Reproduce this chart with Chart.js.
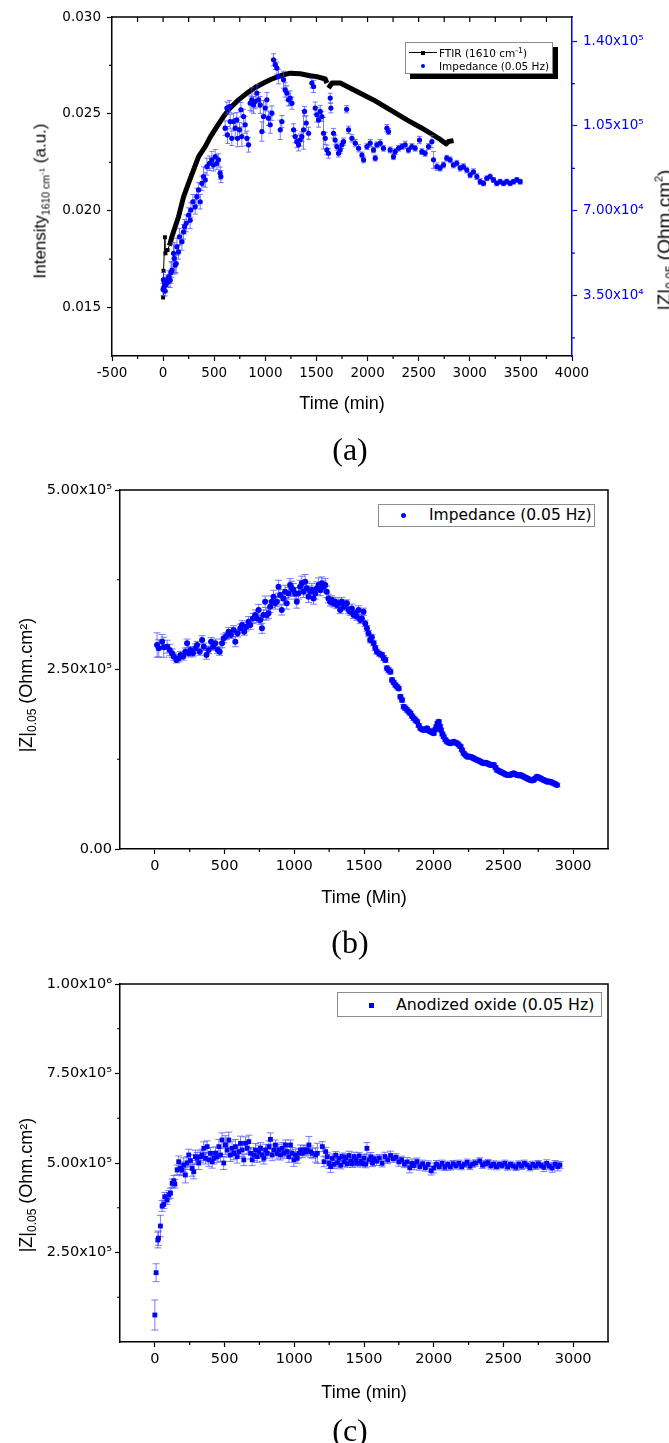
<!DOCTYPE html>
<html><head><meta charset="utf-8">
<script src="https://cdn.jsdelivr.net/npm/chart.js@4.4.1/dist/chart.umd.min.js"></script>
<style>
html,body{margin:0;padding:0;background:#fff;}
body{width:669px;height:1443px;position:relative;overflow:hidden;font-family:"Liberation Sans",Arial,sans-serif;color:#000;}
canvas{position:absolute;left:0;}
.t{position:absolute;white-space:nowrap;transform:translate(-50%,-50%);line-height:1;}
.r{transform:translate(-50%,-50%) rotate(-90deg);}
.cap{font-family:"Liberation Serif",serif;font-size:32px;}
.sb{position:relative;top:0.35em;}
.sp{position:relative;top:-0.55em;font-size:0.75em;}
.sp2{position:relative;top:-0.75em;}
.leg{position:absolute;background:#fff;border:1px solid #8c8c8c;box-sizing:border-box;}
.lt{position:absolute;white-space:nowrap;transform:translateY(-50%);line-height:1;font-family:"DejaVu Sans",sans-serif;}
.mk{position:absolute;}
</style></head>
<body>
<canvas id="ca" width="669" height="420" style="top:0px;width:669px;height:420px"></canvas>
<canvas id="cb" width="669" height="440" style="top:470px;width:669px;height:440px"></canvas>
<canvas id="cc" width="669" height="440" style="top:960px;width:669px;height:440px"></canvas>

<!-- panel (a) texts -->
<div class="t r" style="left:40px;top:201px;font-size:17px">Intensity<span class="sb" style="font-size:10.5px">1610 cm<span class="sp">-1</span></span> (a.u.)</div>
<div class="t r" style="left:664px;top:240px;font-size:19px">|Z|<span class="sb" style="font-size:12px">0.05</span> (Ohm.cm<span class="sp2" style="font-size:11px">2</span>)</div>
<div class="t" style="left:342px;top:403px;font-size:18px">Time (min)</div>
<div class="t cap" style="left:350px;top:449px">(a)</div>
<div class="leg" style="left:405px;top:42px;width:148px;height:32px;box-shadow:5px 5px 0 #000;"></div>
<div class="mk" style="left:409px;top:52px;width:28px;height:1px;background:#000"></div>
<div class="mk" style="left:421px;top:50.5px;width:4px;height:4px;background:#000"></div>
<div class="lt" style="left:439px;top:53px;font-size:10.5px">FTIR (1610 cm<span class="sp">-1</span>)</div>
<div class="mk" style="left:421px;top:64px;width:4px;height:4px;border-radius:50%;background:#0000ff"></div>
<div class="lt" style="left:439px;top:66px;font-size:10.5px">Impedance (0.05 Hz)</div>

<!-- panel (b) texts -->
<div class="t r" style="left:26px;top:685px;font-size:18px">|Z|<span class="sb" style="font-size:12px">0.05</span> (Ohm.cm²)</div>
<div class="t" style="left:364px;top:897px;font-size:18px">Time (Min)</div>
<div class="t cap" style="left:350px;top:942px">(b)</div>
<div class="leg" style="left:378px;top:504px;width:217px;height:23px;"></div>
<div class="mk" style="left:400.5px;top:513px;width:5px;height:5px;border-radius:50%;background:#0000ff"></div>
<div class="lt" style="left:429px;top:516px;font-size:15.5px">Impedance (0.05 Hz)</div>

<!-- panel (c) texts -->
<div class="t r" style="left:26px;top:1185px;font-size:18px">|Z|<span class="sb" style="font-size:12px">0.05</span> (Ohm.cm²)</div>
<div class="t" style="left:364px;top:1392px;font-size:18px">Time (min)</div>
<div class="t cap" style="left:350px;top:1430px">(c)</div>
<div class="leg" style="left:337px;top:992px;width:265px;height:25px;"></div>
<div class="mk" style="left:368.5px;top:1003px;width:5px;height:5px;background:#0000ff"></div>
<div class="lt" style="left:396px;top:1005px;font-size:15.8px">Anodized oxide (0.05 Hz)</div>

<script>
// ---------------- DATA ----------------
// Panel (a): FTIR intensity at 1610 cm-1 (left axis)
const ftirT = [0,4,18,23,43,60,69,86,118,151,200,249,298,347,412,461,526,591,656,738,820,901,982,1048,1113,1178,1243,1341,1439,1521,1586,1602,1610,1618,1651,1700,1733,1896,2058,2222,2385,2515,2613,2694,2770,2792,2841];
const ftirV = [0.01552,0.0169,0.01863,0.0178,0.01797,0.0182,0.01832,0.01866,0.01917,0.01969,0.02072,0.02142,0.02211,0.02279,0.02331,0.0238,0.02434,0.02486,0.0253,0.02572,0.02607,0.02636,0.02659,0.02676,0.0269,0.02702,0.0271,0.02707,0.02697,0.0269,0.0268,0.02659,null,0.02633,0.02659,0.02659,0.02659,0.02615,0.02572,0.02521,0.02469,0.02431,0.0240,0.02374,0.02345,0.02357,0.02362];

// Panel (a): impedance |Z| at 0.05 Hz (right axis)
const impAT = [0,3,8,14,20,28,36,45,55,69,
78,86,102,108,118,128,135,151,160,184,
200,210,226,249,265,272,291,314,330,347,
363,379,395,412,428,454,477,493,510,526,
542,558,565,607,624,630,650,656,672,689,
705,721,728,748,761,770,787,803,820,836,
852,868,885,901,917,934,950,966,982,999,
1015,1031,1048,1064,1080,1097,1113,1129,1146,1162,
1178,1194,1211,1227,1243,1260,1276,1292,1309,1325,
1341,1357,1374,1384,1400,1423,1455,1472,1488,1504,
1521,1537,1553,1569,1586,1602,1618,1635,1641,1667,
1683,1700,1716,1732,1749,1765,1795,1814,1847,1880,
1912,1945,1961,1994,2026,2058,2075,2091,2124,2156,
2189,2205,2221,2254,2270,2303,2335,2368,2400,2433,
2466,2508,2531,2563,2596,2629,2645,2678,2710,2743,
2775,2808,2840,2873,2906,2938,2971,3004,3036,3069,
3102,3134,3167,3199,3232,3264,3297,3330,3362,3395,
3427,3460,3493];
const impAV = [37500,41500,38500,40000,36800,39500,41000,40500,42700,41300,
44500,45500,52400,50300,47500,48200,55100,53000,59200,57200,
61300,63400,64800,68200,66100,70300,73700,71600,75800,78600,
73700,81300,84100,82700,88200,89600,91000,88900,92300,89600,
91000,85500,84100,104100,112400,101300,113000,106800,99900,106800,
104100,107500,99900,103400,111700,100600,108900,105500,99900,97200,
114400,115800,113700,115100,118600,115800,113700,102700,108900,112400,
115800,108200,105500,110300,132300,130300,128900,125400,103400,106800,
124100,119900,118600,115800,116500,114400,103400,100600,98500,97200,
99200,100600,103400,111000,106200,102000,122700,121300,112400,109600,
107500,111000,108900,102000,99900,95100,93700,116500,112400,102000,
99200,96500,93700,95100,97200,98500,111900,103400,99900,97900,
95800,93000,91000,96500,97900,95100,91700,97200,97900,95800,
104100,102700,95100,92300,94400,95800,96500,97200,95100,96500,
95800,99200,94400,93700,96500,98500,91000,88200,87600,88900,
91700,91000,88900,89600,87600,88200,86800,84800,86100,84100,
82000,81300,83400,84100,82700,81300,82000,81300,82000,81300,
82000,82700,82000];
const impAErr = [2500,3000,2000,2500,2000,3000,2500,2000,2500,3000,
4500,3000,3500,6500,3000,4000,3500,3000,3500,3500,
3000,3000,3500,3000,3500,3000,3000,3000,3500,3000,
3000,3000,4000,3000,3500,3000,3500,2500,3000,2500,
2500,2500,2500,3000,2500,3500,2500,3000,3000,3500,
4000,3000,3500,3000,3000,4000,3000,3500,3000,3000,
3000,5000,3500,3000,3500,3000,3500,4000,6500,3000,
3000,3000,3500,3000,2500,2000,2500,3000,4000,2500,
3500,3000,3000,2500,3000,2500,2500,2500,2500,2500,
2500,2000,8000,2000,3000,2500,2000,2500,2500,3000,
3000,2500,2000,6500,2500,2000,2000,2000,2000,2000,
2000,1500,1500,1500,1500,1500,1500,1500,1500,1500,
1500,1200,1200,1200,1500,1200,1200,1200,1500,1200,
1500,1200,1200,1200,1200,1200,1200,1500,1200,1200,
1200,1500,1200,1200,1200,2500,3500,1500,1200,1200,
1200,1200,1200,1200,1200,1200,1200,1200,1200,1200,
1200,1000,1000,1000,1000,1000,1000,1000,1000,1000,
1000,1000,1000];

// Panel (b): impedance |Z| at 0.05 Hz
const impBT = [16,28,52,64,88,107,124,136,155,172,
184,203,219,231,243,255,274,291,303,322,
339,351,370,386,403,418,434,451,465,482,
494,513,529,546,565,577,593,613,625,641,
656,672,684,703,720,732,744,756,768,779,
791,803,815,827,839,851,863,875,887,898,
910,922,934,946,958,970,982,994,1006,1018,
1030,1042,1054,1066,1078,1090,1102,1114,1126,1138,
1150,1162,1174,1186,1198,1210,1222,1233,1245,1257,
1269,1281,1293,1305,1317,1329,1341,1353,1365,1377,
1389,1401,1413,1425,1437,1449,1461,1473,1485,1497,
1509,1521,1532,1544,1556,1569,1581,1593,1610,1629,
1641,1653,1665,1677,1689,1701,1713,1725,1737,1749,
1761,1773,1785,1797,1809,1821,1833,1845,1857,1869,
1881,1893,1905,1917,1928,1940,1952,1964,1976,1988,
2000,2010,2019,2028,2036,2044,2052,2062,2072,2084,
2096,2108,2120,2132,2144,2156,2168,2180,2192,2203,
2215,2227,2240,2252,2263,2275,2287,2299,2311,2323,
2335,2347,2359,2371,2383,2395,2407,2419,2431,2443,
2454,2466,2478,2490,2502,2514,2526,2538,2550,2562,
2574,2586,2598,2610,2622,2634,2645,2657,2669,2681,
2693,2705,2717,2729,2741,2753,2765,2777,2789,2801,
2813,2825,2836,2848,2860,2872,2884];
const impBV = [284100,279500,288700,281000,281800,277100,272600,268000,263200,265500,
270200,268000,274800,286400,272600,277100,272600,279500,284100,274800,
291100,281800,270200,277100,288700,281800,286400,277100,274800,286400,
293400,296500,302700,298100,305000,288700,300400,307300,311900,302700,
309600,316600,311900,321200,325900,321200,332800,318900,307300,325900,
344400,325900,328200,337500,344400,351400,342100,344400,365300,353700,
332800,349000,358300,342100,356000,367600,363000,360700,356000,344400,
356000,365300,370000,358300,372300,363000,351400,358300,360700,349000,
356000,363000,367600,360700,370000,365300,367600,358300,349000,344400,
346700,342100,344400,339800,342100,332800,344400,337500,339800,342100,
332800,330500,335100,325900,328200,323500,332800,318900,321200,330500,
314200,307300,300400,291100,295000,286500,280000,274800,272000,270200,
266000,263200,251700,249000,246900,235400,232000,228400,226000,223700,
212100,207400,198200,196000,193500,191000,188900,185000,182000,179500,
177400,172000,168100,166500,165800,166500,168100,165000,163500,162500,
161100,166000,170400,175000,177400,171000,165800,160000,156500,152000,
149400,148000,147300,148500,149400,148000,147300,145000,142600,138000,
133300,131000,128600,129000,128600,127500,126300,125000,124000,123000,
121700,120500,119300,120000,119300,118000,117000,117500,117000,113500,
110000,109000,107700,106500,105400,104000,103100,103500,103100,104500,
105400,104000,103100,102500,103100,102000,100700,99500,98400,97000,
96100,95500,96100,98500,100700,99500,98400,97000,96100,95000,
93800,94000,93800,92500,91500,90500,89100];
const impBErr = [17000,12000,10000,14000,9000,8000,6000,5000,4000,5000,
5000,5000,5000,6000,5000,5000,5000,6000,5000,5000,
6000,5000,6000,5000,6000,5000,6000,5000,5000,6000,
6000,5000,6000,5000,6000,7000,5000,6000,6000,5000,
6000,7000,6000,7000,7000,6000,8000,6000,7000,7000,
8000,7000,7000,8000,8000,9000,8000,7000,9000,8000,
7000,8000,9000,8000,8000,9000,10000,9000,8000,9000,
8000,9000,10000,8000,10000,9000,8000,8000,9000,8000,
8000,9000,10000,8000,9000,8000,9000,8000,6000,6000,
6000,5000,6000,5000,6000,5000,6000,5000,6000,5000,
5000,5000,6000,5000,5000,5000,6000,5000,5000,5000,
4500,4000,4000,4000,4000,3500,3500,3500,3500,3500,
3500,3500,3500,3500,3500,3000,3000,3000,3000,3000,
3000,3000,3000,3000,3000,3000,3000,3000,3000,3000,
2500,2500,2500,2500,2500,2500,2500,2500,2500,2500,
2500,2500,2500,2500,2500,2500,2500,2500,2500,2500,
2500,2500,2500,2500,2500,2500,2500,2500,2500,2500,
2500,2500,2500,2500,2500,2500,2500,2500,2500,2500,
2500,2500,2500,2500,2500,2500,2500,2500,2500,2500,
2500,2500,2500,2500,2500,2500,2500,2500,2500,2500,
2500,2500,2500,2500,2500,2500,2500,2500,2500,2500,
2500,2500,2500,2500,2500,2500,2500,2500,2500,2500,
2500,2500,2500,2500,2500,2500,2500];

// Panel (c): anodized oxide |Z| at 0.05 Hz
const oxT = [0,9,21,26,40,52,64,71,88,100,
112,124,136,143,160,171,183,195,207,219,
231,243,255,267,279,291,303,315,327,339,
351,363,375,387,399,411,423,435,447,459,
471,482,494,506,518,530,542,554,566,578,
590,602,614,626,638,650,662,674,686,698,
710,722,734,746,758,770,782,794,806,818,
829,841,853,865,877,889,901,913,925,937,
949,961,973,985,997,1009,1021,1033,1045,1057,
1069,1081,1093,1105,1117,1129,1153,1165,1201,1213,
1225,1237,1249,1261,1273,1285,1297,1309,1321,1333,
1345,1357,1369,1381,1393,1405,1417,1429,1441,1453,
1465,1477,1489,1501,1513,1521,1537,1549,1561,1573,
1590,1610,1630,1650,1670,1690,1710,1730,1750,1770,
1790,1810,1828,1845,1860,1880,1900,1920,1940,1960,
1981,2000,2020,2040,2060,2080,2100,2120,2140,2160,
2180,2200,2220,2240,2260,2280,2300,2330,2350,2370,
2390,2410,2430,2450,2470,2490,2510,2530,2550,2570,
2590,2610,2630,2650,2670,2690,2710,2730,2750,2770,
2790,2810,2830,2850,2870,2890,2905];
const oxV = [75400,193600,284900,290000,324000,379900,384500,405900,396600,411100,
415500,443300,450400,441700,480500,503600,485000,480500,494400,466500,
499900,522400,506900,485000,475700,517800,513200,499900,517800,522400,
541000,513200,545700,508700,527100,503600,513200,527100,517800,545700,
522400,564300,499900,550300,536400,564300,522400,541000,527100,545700,
517800,531700,555000,536400,508700,555000,541000,559700,527100,508700,
522400,536400,517800,531700,541000,522400,513200,536400,527100,545700,
566200,522400,536400,550300,527100,536400,522400,541000,527100,550300,
531700,517800,550300,527100,508700,522400,513200,527100,536400,527100,
536400,531700,536400,550300,531700,527100,522400,527100,545700,503600,
531700,517800,498700,489900,513200,496600,521800,500700,513200,493600,
517800,502700,515200,498000,520800,506000,497700,518000,509200,499000,
519800,505000,498700,514000,496600,541000,509000,517200,500000,511700,
505000,514000,499000,518000,508000,521000,512000,516000,503000,509000,
497000,503000,486700,499000,493000,504000,490000,498000,487000,496000,
478500,486000,497000,490000,499000,488000,496000,489000,498000,492000,
499000,490000,496000,502000,491000,497000,500000,505600,494000,498000,
501000,492000,497000,490000,496000,493000,499000,489000,496000,492000,
488000,497000,491000,499000,494000,487000,496000,491000,498000,493000,
488000,499000,491000,486000,497000,490000,494000];
const oxErr = [42000,25000,22000,20000,30000,15000,12000,12000,12000,12000,
14000,12000,15000,12000,14000,16000,18000,16000,20000,22000,
18000,16000,16000,22000,20000,18000,16000,18000,16000,16000,
18000,16000,16000,18000,16000,18000,16000,18000,16000,20000,
18000,20000,18000,26000,20000,22000,18000,20000,18000,20000,
18000,18000,20000,18000,16000,18000,16000,18000,16000,16000,
16000,18000,16000,18000,16000,18000,16000,16000,14000,16000,
18000,16000,16000,14000,16000,16000,14000,16000,14000,14000,
14000,16000,14000,16000,18000,16000,14000,14000,14000,12000,
12000,12000,14000,24000,16000,14000,20000,28000,14000,14000,
12000,12000,14000,16000,12000,12000,10000,12000,10000,10000,
10000,12000,10000,10000,12000,10000,10000,12000,10000,10000,
10000,12000,10000,10000,10000,16000,10000,12000,10000,10000,
12000,10000,10000,12000,10000,12000,10000,10000,12000,10000,
10000,12000,14000,12000,12000,10000,10000,10000,10000,10000,
12000,14000,10000,9000,9000,9000,9000,9000,9000,9000,
9000,9000,9000,9000,9000,9000,9000,9000,9000,9000,
9000,9000,9000,9000,9000,9000,9000,9000,9000,9000,
9000,9000,9000,9000,9000,9000,9000,9000,9000,9000,
12000,10000,10000,12000,10000,12000,10000];

// Tick values
const aXTicks = [-500,0,500,1000,1500,2000,2500,3000,3500,4000];
const aXMinor = [-250,250,750,1250,1750,2250,2750,3250,3750];
const aTopTicks = [-250,0,250,500,750,1000,1250,1500,1750,2000,2250,2500,2750,3000,3250,3500,3750];
const aLeftTicks = [0.015,0.020,0.025,0.030];
const aLeftMinor = [0.0175,0.0225,0.0275];
const aRightTicks = [35000,70000,105000,140000];
const aRightMinor = [17500,52500,87500,122500];
const bcXTicks = [0,500,1000,1500,2000,2500,3000];
const bcXMinor = [250,750,1250,1750,2250,2750];
const bYTicks = [0,250000,500000];
const bYMinor = [125000,375000];
const cYTicks = [250000,500000,750000,1000000];
const cYMinor = [125000,375000,625000,875000];

// ---------------- RENDER ----------------
const TICKFONT = '"DejaVu Sans", sans-serif';
const BLUE = '#0000ff';
const ERRBLUE = 'rgba(70,70,255,0.72)';
const SUPD = '⁰¹²³⁴⁵⁶⁷⁸⁹';
function supStr(n){ return String(n).split('').map(d=>SUPD[+d]).join(''); }
function sci(v){ if(v===0) return '0.00'; const e=Math.floor(Math.log10(v)+1e-9); return (v/Math.pow(10,e)).toFixed(2)+'x10'+supStr(e); }
function pts(ts,vs){ return ts.map((t,i)=>({x:t,y:vs[i]})); }

const decor = {
  id:'decor',
  beforeDatasetDraw(chart,args){
    const ds = chart.data.datasets[args.index];
    if(!ds.errs) return;
    const xs = chart.scales[args.meta.xAxisID], ys = chart.scales[args.meta.yAxisID];
    const ctx = chart.ctx, cap = ds.errCap||2.5;
    ctx.save(); ctx.strokeStyle = ds.errColor; ctx.lineWidth = 1; ctx.beginPath();
    ds.data.forEach((p,i)=>{
      const e = ds.errs[i]; if(p.y==null||!e) return;
      const x = xs.getPixelForValue(p.x), y1 = ys.getPixelForValue(p.y-e), y2 = ys.getPixelForValue(p.y+e);
      ctx.moveTo(x,y1); ctx.lineTo(x,y2);
      ctx.moveTo(x-cap,y1); ctx.lineTo(x+cap,y1);
      ctx.moveTo(x-cap,y2); ctx.lineTo(x+cap,y2);
    });
    ctx.stroke(); ctx.restore();
  },
  afterDraw(chart,args,opts){
    const ctx = chart.ctx, a = chart.chartArea;
    ctx.save();
    (opts.minor||[]).forEach(m=>{
      const s = chart.scales[m.id];
      ctx.strokeStyle = m.color||'#000'; ctx.lineWidth = 1.2; ctx.beginPath();
      m.values.forEach(v=>{
        const p = s.getPixelForValue(v);
        if(s.isHorizontal()){
          const y0 = m.side==='top' ? a.top : a.bottom;
          const dir = m.inner ? (m.side==='top'?1:-1) : (m.side==='top'?-1:1);
          ctx.moveTo(p,y0); ctx.lineTo(p,y0+dir*m.len);
        } else {
          const x0 = s.position==='left' ? a.left : a.right;
          const dir = s.position==='left' ? -1 : 1;
          ctx.moveTo(x0,p); ctx.lineTo(x0+dir*m.len,p);
        }
      });
      ctx.stroke();
    });
    ctx.strokeStyle = '#000'; ctx.lineWidth = 1.5; ctx.beginPath();
    if(opts.top){ ctx.moveTo(a.left-0.75,a.top); ctx.lineTo(a.right+0.75,a.top); }
    if(opts.right){ ctx.moveTo(a.right,a.top); ctx.lineTo(a.right,a.bottom); }
    ctx.stroke();
    ctx.restore();
  }
};

function xScale(min,max,ticks,size,h,pad){
  return {type:'linear',position:'bottom',min,max,
    afterBuildTicks:s=>{s.ticks=ticks.map(v=>({value:v}));},
    afterFit:s=>{s.height=h;},
    ticks:{autoSkip:false,maxRotation:0,color:'#000',padding:pad,font:{family:TICKFONT,size},callback:v=>String(v)},
    grid:{drawOnChartArea:false,drawTicks:true,tickLength:5,tickColor:'#000',tickWidth:1.2},
    border:{display:true,color:'#000',width:1.5}};
}
function yScale(pos,min,max,ticks,size,w,pad,color,cb){
  return {type:'linear',position:pos,min,max,
    afterBuildTicks:s=>{s.ticks=ticks.map(v=>({value:v}));},
    afterFit:s=>{s.width=w;},
    ticks:{autoSkip:false,color,padding:pad,font:{family:TICKFONT,size},callback:cb},
    grid:{drawOnChartArea:false,drawTicks:true,tickLength:5,tickColor:color,tickWidth:1.2},
    border:{display:true,color,width:1.5}};
}
const common = {responsive:false,animation:false,devicePixelRatio:1,events:[]};

// Panel (a)
new Chart(document.getElementById('ca'),{
  type:'scatter',
  data:{datasets:[
    {label:'Impedance (0.05 Hz)',data:pts(impAT,impAV),yAxisID:'y2',showLine:false,pointStyle:'circle',pointRadius:2.6,pointBorderWidth:0,pointBackgroundColor:BLUE,backgroundColor:BLUE,errs:impAErr,errColor:ERRBLUE,errCap:2.5,order:0},
    {label:'FTIR (1610 cm-1)',data:pts(ftirT,ftirV),yAxisID:'y',showLine:true,spanGaps:false,borderColor:'#000',backgroundColor:'#000',pointBackgroundColor:'#000',pointStyle:'rect',pointBorderWidth:0,
     pointRadius:c=>(c.raw&&c.raw.x<50)?2.8:0,borderWidth:5,borderJoinStyle:'round',segment:{borderWidth:c=>c.p0.parsed.x<50?1:5},order:1}
  ]},
  options:Object.assign({},common,{
    layout:{padding:{top:17,left:0,right:0,bottom:0}},
    plugins:{legend:{display:false},tooltip:{enabled:false},
      decor:{top:true,right:false,minor:[
        {id:'x',values:aXMinor,len:3},
        {id:'x',values:aTopTicks,len:5,side:'top',inner:true},
        {id:'y',values:aLeftMinor,len:3},
        {id:'y2',values:aRightMinor,len:3,color:BLUE}]}},
    scales:{
      x:xScale(-500,4000,aXTicks,13.5,64,4),
      y:yScale('left',0.0125,0.030,aLeftTicks,13.5,112,6,'#000',v=>v.toFixed(3)),
      y2:yScale('right',10000,150000,aRightTicks,13.5,97,6,BLUE,v=>sci(v))
    }
  }),
  plugins:[decor]
});

// Panel (b)
new Chart(document.getElementById('cb'),{
  type:'scatter',
  data:{datasets:[
    {label:'Impedance (0.05 Hz)',data:pts(impBT,impBV),showLine:false,pointStyle:'circle',pointRadius:3,pointBorderWidth:0,pointBackgroundColor:BLUE,backgroundColor:BLUE,errs:impBErr,errColor:ERRBLUE,errCap:3.5}
  ]},
  options:Object.assign({},common,{
    layout:{padding:{top:20,left:0,right:61,bottom:0}},
    plugins:{legend:{display:false},tooltip:{enabled:false},
      decor:{top:true,right:true,minor:[{id:'x',values:bcXMinor,len:3},{id:'y',values:bYMinor,len:3}]}},
    scales:{
      x:xScale(-250,3250,bcXTicks,14.5,61,4),
      y:yScale('left',0,500000,bYTicks,14.5,120,3,'#000',v=>sci(v))
    }
  }),
  plugins:[decor]
});

// Panel (c)
new Chart(document.getElementById('cc'),{
  type:'scatter',
  data:{datasets:[
    {label:'Anodized oxide (0.05 Hz)',data:pts(oxT,oxV),showLine:false,pointStyle:'rect',pointRadius:3.4,pointBorderWidth:0,pointBackgroundColor:BLUE,backgroundColor:BLUE,errs:oxErr,errColor:ERRBLUE,errCap:3.5}
  ]},
  options:Object.assign({},common,{
    layout:{padding:{top:24,left:0,right:61,bottom:0}},
    plugins:{legend:{display:false},tooltip:{enabled:false},
      decor:{top:true,right:true,minor:[{id:'x',values:bcXMinor,len:3},{id:'y',values:cYMinor,len:3}]}},
    scales:{
      x:xScale(-250,3250,bcXTicks,14.5,58,4),
      y:yScale('left',0,1000000,cYTicks,14.5,120,3,'#000',v=>sci(v))
    }
  }),
  plugins:[decor]
});
</script>
</body></html>
